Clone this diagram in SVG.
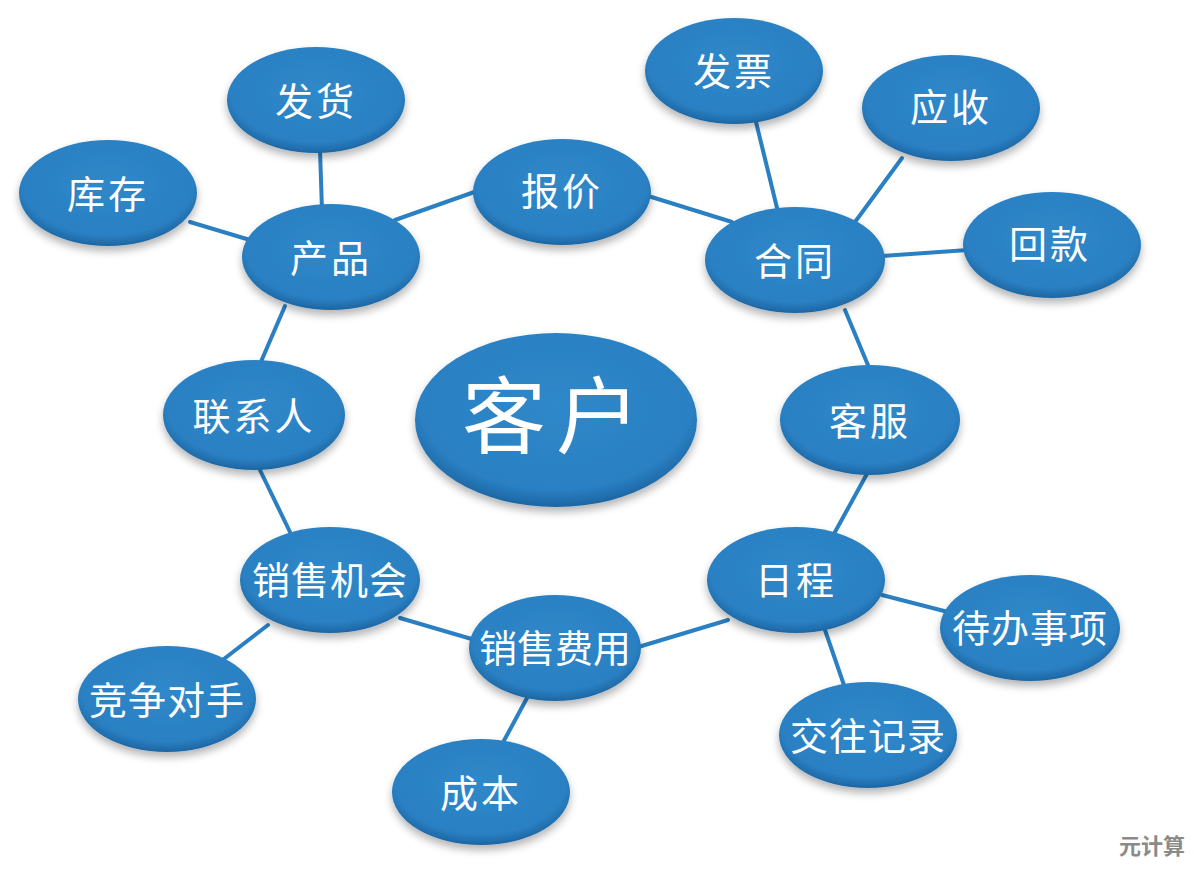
<svg xmlns="http://www.w3.org/2000/svg" width="1194" height="870" viewBox="0 0 1194 870">
<defs>
<radialGradient id="g" cx="0.5" cy="0.42" r="0.6">
<stop offset="0" stop-color="#2f88c9"/>
<stop offset="0.8" stop-color="#2a80c2"/>
<stop offset="1" stop-color="#1a609c"/>
</radialGradient>
<filter id="sh" x="-20%" y="-20%" width="140%" height="150%">
<feGaussianBlur in="SourceAlpha" stdDeviation="4"/>
<feOffset dx="0" dy="5" result="b"/>
<feComponentTransfer><feFuncA type="linear" slope="0.3"/></feComponentTransfer>
<feMerge><feMergeNode/><feMergeNode in="SourceGraphic"/></feMerge>
</filter>
</defs>
<style>
.n ellipse{fill:url(#g);filter:url(#sh)}
.n text{fill:#fff;font-family:"Noto Sans CJK SC","Noto Sans",sans-serif;font-size:38px;text-anchor:middle;dominant-baseline:central;letter-spacing:3px}
#c line{stroke:#2a80c2;stroke-width:4;stroke-linecap:round}
</style>
<rect width="1194" height="870" fill="#fff"/>
<g id="c">
<line x1="320" y1="150" x2="322" y2="210"/>
<line x1="190" y1="222" x2="250" y2="240"/>
<line x1="395" y1="220" x2="480" y2="190"/>
<line x1="645" y1="195" x2="732" y2="222"/>
<line x1="756" y1="122" x2="778" y2="212"/>
<line x1="902" y1="158" x2="855" y2="222"/>
<line x1="968" y1="250" x2="882" y2="256"/>
<line x1="845" y1="310" x2="870" y2="370"/>
<line x1="868" y1="472" x2="835" y2="532"/>
<line x1="882" y1="595" x2="948" y2="612"/>
<line x1="825" y1="630" x2="845" y2="688"/>
<line x1="728" y1="620" x2="635" y2="648"/>
<line x1="475" y1="640" x2="400" y2="618"/>
<line x1="527" y1="698" x2="500" y2="748"/>
<line x1="268" y1="625" x2="220" y2="662"/>
<line x1="290" y1="532" x2="258" y2="466"/>
<line x1="260" y1="364" x2="285" y2="306"/>
</g>
<g id="n-fahuo" class="n"><ellipse cx="316" cy="100" rx="89" ry="53"/><text x="316" y="98">发货</text></g>
<g id="n-kucun" class="n"><ellipse cx="108" cy="193" rx="89" ry="53"/><text x="108" y="191">库存</text></g>
<g id="n-chanpin" class="n"><ellipse cx="331" cy="257" rx="89" ry="53"/><text x="331" y="255">产品</text></g>
<g id="n-baojia" class="n"><ellipse cx="562" cy="192" rx="89" ry="53"/><text x="562" y="188">报价</text></g>
<g id="n-fapiao" class="n"><ellipse cx="734" cy="71" rx="89" ry="53"/><text x="734" y="68">发票</text></g>
<g id="n-yingshou" class="n"><ellipse cx="951" cy="108" rx="89" ry="53"/><text x="951" y="104">应收</text></g>
<g id="n-hetong" class="n"><ellipse cx="795" cy="260" rx="90" ry="53"/><text x="795" y="258">合同</text></g>
<g id="n-huikuan" class="n"><ellipse cx="1052" cy="245" rx="89" ry="53"/><text x="1050" y="241">回款</text></g>
<g id="n-kehu" class="n"><ellipse cx="556" cy="420" rx="141" ry="87"/><text x="556" y="410" style="font-size:84px;letter-spacing:10px">客户</text></g>
<g id="n-kefu" class="n"><ellipse cx="870" cy="420" rx="90" ry="55"/><text x="870" y="418">客服</text></g>
<g id="n-lianxiren" class="n"><ellipse cx="254" cy="415" rx="91" ry="55"/><text x="254" y="413">联系人</text></g>
<g id="n-xiaoshoujihui" class="n"><ellipse cx="330" cy="580" rx="90" ry="53"/><text x="330" y="577" style="letter-spacing:1px">销售机会</text></g>
<g id="n-richeng" class="n"><ellipse cx="796" cy="580" rx="89" ry="53"/><text x="796" y="577">日程</text></g>
<g id="n-daiban" class="n"><ellipse cx="1030" cy="628" rx="90" ry="53"/><text x="1030" y="625" style="letter-spacing:1px">待办事项</text></g>
<g id="n-feiyong" class="n"><ellipse cx="555" cy="648" rx="86" ry="53"/><text x="555" y="645" style="letter-spacing:0px">销售费用</text></g>
<g id="n-jingzheng" class="n"><ellipse cx="167" cy="699" rx="89" ry="53"/><text x="167" y="697" style="letter-spacing:1px">竞争对手</text></g>
<g id="n-jiaowang" class="n"><ellipse cx="868" cy="735" rx="89" ry="53"/><text x="868" y="733" style="letter-spacing:1px">交往记录</text></g>
<g id="n-chengben" class="n"><ellipse cx="481" cy="792" rx="89" ry="53"/><text x="481" y="790">成本</text></g>
<text x="1152" y="854" fill="#8a8a8a" font-family="Noto Sans CJK SC,sans-serif" font-size="22" font-weight="bold" text-anchor="middle">元计算</text>
</svg>
